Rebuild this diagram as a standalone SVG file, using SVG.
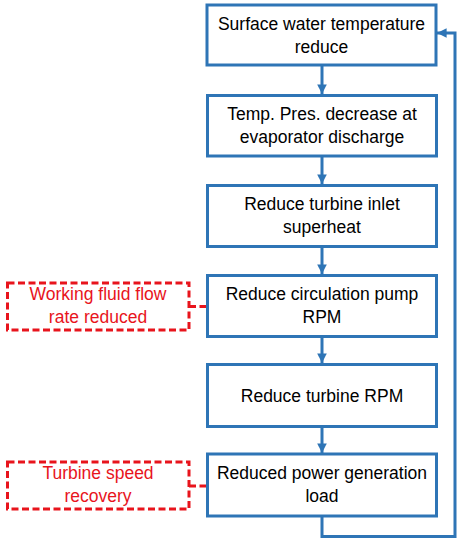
<svg xmlns="http://www.w3.org/2000/svg" width="460" height="542" viewBox="0 0 460 542">
<defs>
<style>
.box{fill:#fff;stroke:#2E75B6;stroke-width:3}
.note{fill:#fff;stroke:#E8141C;stroke-width:3;stroke-dasharray:7 3.5}
.t{font-family:"Liberation Sans",Arial,sans-serif;font-size:17.5px;fill:#000;text-anchor:middle}
.r{font-family:"Liberation Sans",Arial,sans-serif;font-size:17.5px;fill:#E8141C;text-anchor:middle}
.c{fill:none;stroke:#2E75B6;stroke-width:3}
.d{fill:none;stroke:#E8141C;stroke-width:3;stroke-dasharray:7 3.5}
</style>
<marker id="ah" viewBox="0 0 10 10" refX="10" refY="5" markerWidth="3.2" markerHeight="3.2" orient="auto" markerUnits="strokeWidth">
<path d="M0,0 L10,5 L0,10 z" fill="#2E75B6"/>
</marker>
</defs>
<rect width="460" height="542" fill="#fff"/>
<g id="connectors">
<line class="c" x1="322" y1="65" x2="322" y2="94" marker-end="url(#ah)"/>
<line class="c" x1="322" y1="156" x2="322" y2="184" marker-end="url(#ah)"/>
<line class="c" x1="322" y1="246" x2="322" y2="274" marker-end="url(#ah)"/>
<line class="c" x1="322" y1="336" x2="322" y2="363" marker-end="url(#ah)"/>
<line class="c" x1="322" y1="426" x2="322" y2="453" marker-end="url(#ah)"/>
<polyline class="c" points="322,516 322,536.5 455,536.5 455,33 437,33" marker-end="url(#ah)"/>
<line class="d" x1="189" y1="306.5" x2="207" y2="306.5"/>
<line class="d" x1="189" y1="486" x2="207" y2="486"/>
</g>
<g id="n1"><rect class="box" x="207" y="5" width="229" height="60"/>
<text class="t" x="321.5" y="29.5">Surface water temperature</text><text class="t" x="321.5" y="52.5">reduce</text></g>
<g id="n2"><rect class="box" x="207.5" y="95.5" width="229" height="60.5"/>
<text class="t" x="322" y="120">Temp. Pres. decrease at</text><text class="t" x="322" y="143">evaporator discharge</text></g>
<g id="n3"><rect class="box" x="207.5" y="185.5" width="229" height="61"/>
<text class="t" x="322" y="210">Reduce turbine inlet</text><text class="t" x="322" y="233">superheat</text></g>
<g id="n4"><rect class="box" x="207.5" y="275.5" width="229" height="61"/>
<text class="t" x="322" y="300">Reduce circulation pump</text><text class="t" x="322" y="323">RPM</text></g>
<g id="n5"><rect class="box" x="207.5" y="364.5" width="229" height="62"/>
<text class="t" x="322" y="402">Reduce turbine RPM</text></g>
<g id="n6"><rect class="box" x="207.5" y="454" width="229" height="62"/>
<text class="t" x="322" y="479">Reduced power generation</text><text class="t" x="322" y="502">load</text></g>
<g id="noteA"><rect class="note" x="7.5" y="283" width="181.5" height="47"/>
<text class="r" x="98" y="299.5">Working fluid flow</text><text class="r" x="98" y="322.5">rate reduced</text></g>
<g id="noteB"><rect class="note" x="7.5" y="462" width="181.5" height="47"/>
<text class="r" x="98" y="479">Turbine speed</text><text class="r" x="98" y="502">recovery</text></g>
</svg>
